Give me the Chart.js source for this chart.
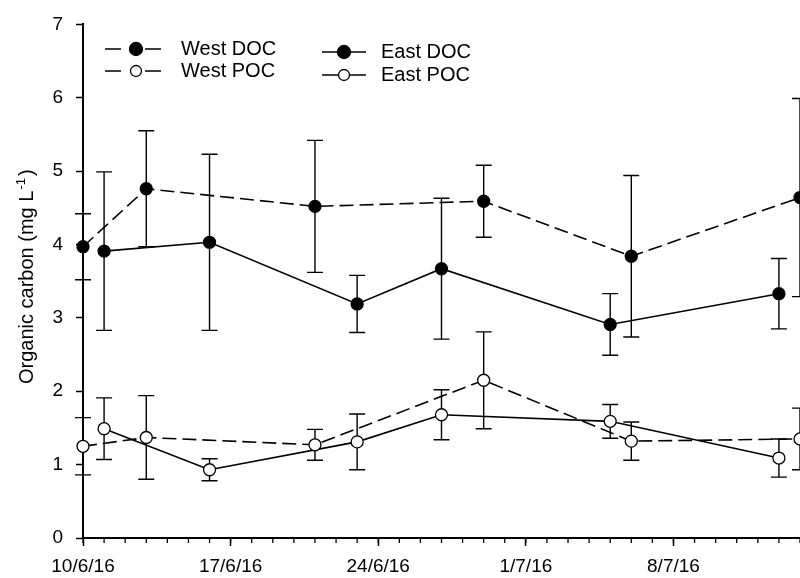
<!DOCTYPE html>
<html>
<head>
<meta charset="utf-8">
<script src="https://cdn.jsdelivr.net/npm/chart.js@4.4.1/dist/chart.umd.min.js"></script>
<style>
  html, body { margin: 0; padding: 0; background: #fff; }
  #wrap { width: 800px; height: 578px; position: relative; }
</style>
</head>
<body>
<div id="wrap"><canvas id="chart"></canvas></div>
<script>
// ── DATA (days after 10/6/16) ──
const westDays = [0, 3, 11, 19, 26, 34];
const eastDays = [1, 6, 13, 17, 25, 33];

const westDOC    = [3.97, 4.76, 4.52, 4.59, 3.84, 4.64];
const westDOCErr = [0.45, 0.79, 0.90, 0.49, 1.10, 1.35];
const westPOC    = [1.25, 1.37, 1.27, 2.15, 1.32, 1.35];
const westPOCErr = [0.39, 0.57, 0.21, 0.66, 0.26, 0.42];

const eastDOC    = [3.91, 4.03, 3.19, 3.67, 2.91, 3.33];
const eastDOCErr = [1.08, 1.20, 0.39, 0.96, 0.42, 0.48];
const eastPOC    = [1.49, 0.93, 1.31, 1.68, 1.59, 1.09];
const eastPOCErr = [0.42, 0.15, 0.38, 0.34, 0.23, 0.26];

const xTickDays   = [0, 7, 14, 21, 28];
const xTickLabels = ['10/6/16', '17/6/16', '24/6/16', '1/7/16', '8/7/16'];
const xMax = 34;
const yTicks = [0, 1, 2, 3, 4, 5, 6, 7];

const seriesLabels = ['West DOC', 'West POC', 'East DOC', 'East POC'];
const yTitleMain = 'Organic carbon (mg L';
const yTitleSup  = '-1';
const yTitleEnd  = ')';

const FONT = '"Liberation Sans", Arial, sans-serif';
const DASH = [14, 6];

const pts = (days, vals) => days.map((d, i) => ({ x: d, y: vals[i] }));

function series(label, days, vals, errs, filled, dashed) {
  return {
    label,
    data: pts(days, vals),
    errors: errs,
    borderColor: '#000',
    borderWidth: 1.6,
    borderDash: dashed ? DASH : [],
    backgroundColor: filled ? '#000' : '#fff',
    pointBackgroundColor: filled ? '#000' : '#fff',
    pointBorderColor: '#000',
    pointBorderWidth: 1.3,
    pointRadius: 6,
    pointHoverRadius: 6,
    fill: false,
    tension: 0,
    clip: false,
    dashed, filled
  };
}

// ── ERROR BARS ──
const errorBars = {
  id: 'errorBars',
  beforeDatasetsDraw(chart) {
    const { ctx, scales: { x, y } } = chart;
    ctx.save();
    ctx.strokeStyle = '#000';
    ctx.lineWidth = 1.4;
    chart.data.datasets.forEach(ds => {
      ds.data.forEach((p, i) => {
        const e = ds.errors[i];
        const px = x.getPixelForValue(p.x);
        const t = y.getPixelForValue(p.y + e);
        const b = y.getPixelForValue(p.y - e);
        ctx.beginPath();
        ctx.moveTo(px, t); ctx.lineTo(px, b);
        ctx.moveTo(px - 8, t); ctx.lineTo(px + 8, t);
        ctx.moveTo(px - 8, b); ctx.lineTo(px + 8, b);
        ctx.stroke();
      });
    });
    ctx.restore();
  }
};

// ── MINOR DAY TICKS + Y TITLE + LEGEND ──
const extras = {
  id: 'extras',
  afterDraw(chart) {
    const { ctx, chartArea: a, scales: { x } } = chart;
    ctx.save();
    ctx.strokeStyle = '#000';
    ctx.lineWidth = 1.3;
    for (let d = 0; d <= xMax; d++) {
      const px = x.getPixelForValue(d);
      ctx.beginPath();
      ctx.moveTo(px, a.bottom); ctx.lineTo(px, a.bottom + 5);
      ctx.stroke();
    }

    // y title with superscript
    ctx.fillStyle = '#000';
    ctx.translate(33, (a.top + a.bottom) / 2 - 3);
    ctx.rotate(-Math.PI / 2);
    ctx.font = '20px ' + FONT;
    const w1 = ctx.measureText(yTitleMain).width;
    const w3 = ctx.measureText(yTitleEnd).width;
    ctx.font = '13px ' + FONT;
    const w2 = ctx.measureText(yTitleSup).width;
    let sx = -(w1 + w2 + w3) / 2;
    ctx.textBaseline = 'alphabetic';
    ctx.textAlign = 'left';
    ctx.font = '20px ' + FONT;
    ctx.fillText(yTitleMain, sx, 0);
    ctx.font = '13px ' + FONT;
    ctx.fillText(yTitleSup, sx + w1 + 1, -8);
    ctx.font = '20px ' + FONT;
    ctx.fillText(yTitleEnd, sx + w1 + w2 + 3, 0);
    ctx.restore();

    // legend
    const rows = [
      { x0: 105, x1: 161, mx: 136, tx: 181, y: 49 },
      { x0: 105, x1: 161, mx: 136, tx: 181, y: 71 },
      { x0: 322, x1: 366, mx: 344, tx: 381, y: 52 },
      { x0: 322, x1: 366, mx: 344, tx: 381, y: 75 }
    ];
    ctx.save();
    ctx.strokeStyle = '#000';
    ctx.lineWidth = 1.6;
    chart.data.datasets.forEach((ds, i) => {
      const r = rows[i];
      ctx.beginPath();
      if (ds.dashed) {
        ctx.moveTo(r.x0, r.y); ctx.lineTo(r.x0 + 16, r.y);
        ctx.moveTo(r.x1 - 16, r.y); ctx.lineTo(r.x1, r.y);
      } else {
        ctx.moveTo(r.x0, r.y); ctx.lineTo(r.x1, r.y);
      }
      ctx.stroke();
      ctx.beginPath();
      ctx.arc(r.mx, r.y, ds.filled ? 6.5 : 5.5, 0, Math.PI * 2);
      ctx.fillStyle = ds.filled ? '#000' : '#fff';
      ctx.fill();
      ctx.lineWidth = 1.3;
      ctx.stroke();
      ctx.lineWidth = 1.6;
      ctx.fillStyle = '#000';
      ctx.font = '20px ' + FONT;
      ctx.textBaseline = 'middle';
      ctx.textAlign = 'left';
      ctx.fillText(ds.label, r.tx, r.y);
    });
    ctx.restore();
  }
};

new Chart(document.getElementById('chart'), {
  type: 'line',
  data: {
    datasets: [
      series(seriesLabels[0], westDays, westDOC, westDOCErr, true, true),
      series(seriesLabels[1], westDays, westPOC, westPOCErr, false, true),
      series(seriesLabels[2], eastDays, eastDOC, eastDOCErr, true, false),
      series(seriesLabels[3], eastDays, eastPOC, eastPOCErr, false, false)
    ]
  },
  options: {
    responsive: true,
    maintainAspectRatio: false,
    animation: false,
    layout: { autoPadding: false, padding: { top: 21, right: 0, bottom: 0, left: 0 } },
    plugins: { legend: { display: false }, tooltip: { enabled: false } },
    scales: {
      x: {
        type: 'linear',
        min: 0, max: xMax,
        afterFit: s => { s.height = 40; s.paddingLeft = 0; s.paddingRight = 0; },
        border: { color: '#000', width: 2 },
        grid: {
          drawOnChartArea: false,
          tickLength: 8,
          tickWidth: 1.5,
          tickColor: c => (c.tick && xTickDays.includes(c.tick.value)) ? '#000' : 'rgba(0,0,0,0)'
        },
        ticks: {
          stepSize: 1,
          autoSkip: false,
          maxRotation: 0,
          padding: 9,
          color: '#000',
          font: { family: FONT, size: 19 },
          callback: v => {
            const i = xTickDays.indexOf(v);
            return i >= 0 ? xTickLabels[i] : '';
          }
        }
      },
      y: {
        min: 0, max: 7,
        afterFit: s => { s.width = 83; },
        afterBuildTicks: s => { s.ticks = yTicks.map(v => ({ value: v })); },
        border: { color: '#000', width: 2 },
        grid: { drawOnChartArea: false, tickLength: 7, tickWidth: 1.5, tickColor: '#000' },
        ticks: {
          padding: 13,
          color: '#000',
          font: { family: FONT, size: 19 }
        }
      }
    }
  },
  plugins: [errorBars, extras]
});
</script>
</body>
</html>
